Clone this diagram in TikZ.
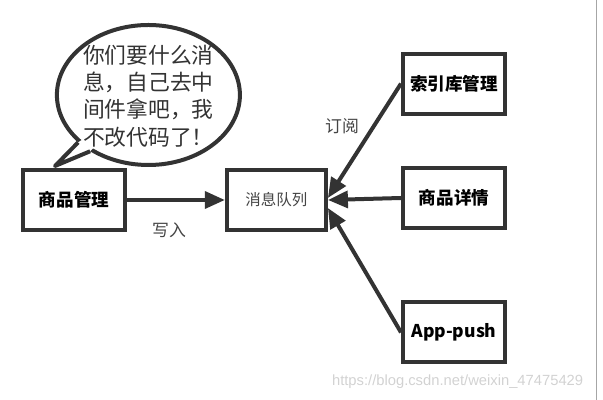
\documentclass[tikz,border=0pt]{standalone}
\usepackage{fontspec}
\setmainfont{Noto Sans CJK SC}
\newfontfamily\urlfont{Liberation Sans}
\usepackage{tikz}
\usetikzlibrary{arrows.meta,positioning,shapes.geometric,calc}
\definecolor{ink}{HTML}{333333}
\definecolor{labelgray}{HTML}{444444}
\tikzset{
  box/.style={draw=ink, line width=0.1cm, minimum width=2.55cm, minimum height=1.5cm, align=center, fill=white, font=\fontsize{12.5}{14}\selectfont\bfseries},
  queue/.style={draw=ink, line width=0.1cm, minimum width=2.475cm, minimum height=1.5cm, align=center, fill=white, text=labelgray, font=\fontsize{11}{13}\selectfont},
  bubble/.style={draw=ink, line width=0.1cm, ellipse, minimum width=4.575cm, minimum height=3.5cm, fill=white},
  arrow/.style={draw=ink, line width=0.1cm, -{Triangle[length=0.5cm,width=0.42cm]}},
  tailline/.style={draw=ink, line width=0.1cm, line join=round},
  edgelabel/.style={text=labelgray, font=\fontsize{12}{14}\selectfont}
}
\begin{document}
\begin{tikzpicture}[x=1cm,y=1cm]
  \useasboundingbox (0,0) rectangle (15.075,10);
  % boxes
  \node[box] (goods) at (1.85,5.0) {商品管理};
  \node[queue] (mq) at (6.91,5.0) {消息队列};
  \node[box] (index) at (11.35,7.91) {索引库管理};
  \node[box] (detail) at (11.35,5.05) {商品详情};
  \node[box] (push) at (11.35,1.69) {App-push};
  % speech bubble
  \node[bubble] (bubble) at (3.71,7.625) {};
  \coordinate (tail) at (1.375,5.85);
  \fill[white] (bubble.214) -- (tail) -- (bubble.224) -- (bubble.center) -- cycle;
  \draw[tailline] (bubble.214) -- (tail) -- (bubble.224);
  \node[align=left, text=ink, font=\fontsize{15.5}{19.5}\selectfont] (say) at (3.71,7.6)
    {你们要什么消\\息，自己去中\\间件拿吧，我\\不改代码了！};
  % arrows
  \draw[arrow] (goods.east) -- (mq.west);
  \draw[arrow] (index.west) -- ([yshift=0.05cm]mq.east);
  \draw[arrow] (detail.west) -- (mq.east);
  \draw[arrow] (push.west) -- ([yshift=-0.2cm]mq.east);
  \node[edgelabel] (write) at (4.225,4.25) {写入};
  \node[edgelabel] (sub) at (8.55,6.85) {订阅};
  % screenshot leftovers
  \node[text=gray!35, font=\urlfont\fontsize{10.5}{12}\selectfont] (mark) at (11.44,0.45) {https://blog.csdn.net/weixin\_47475429};
  \draw[gray!70, line width=0.6pt] (14.9,0) -- (14.9,10);
\end{tikzpicture}
\end{document}
